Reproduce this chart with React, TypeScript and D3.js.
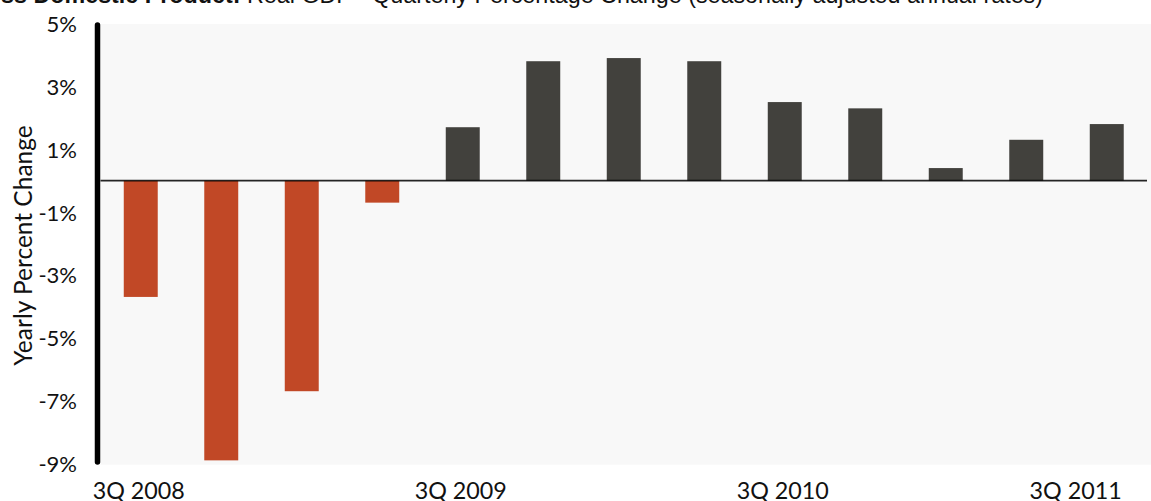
import React from "react";
import * as d3 from "d3";

// Real GDP, quarterly percent change (seasonally adjusted annual rates)
const quarters = [
  "3Q 2008", "4Q 2008", "1Q 2009", "2Q 2009", "3Q 2009", "4Q 2009", "1Q 2010",
  "2Q 2010", "3Q 2010", "4Q 2010", "1Q 2011", "2Q 2011", "3Q 2011",
];
const gdpChange = [-3.7, -8.9, -6.7, -0.7, 1.7, 3.8, 3.9, 3.8, 2.5, 2.3, 0.4, 1.3, 1.8];
const yTicks = [-9, -7, -5, -3, -1, 1, 3, 5];
const xTickLabels = ["3Q 2008", "3Q 2009", "3Q 2010", "3Q 2011"];

const W = 1151;
const H = 501;
const plot = { left: 100.5, right: 1147, top: 23.5, bottom: 463.5 };

const NEG = "#c14826";
const POS = "#42413d";
const labelFont = "Lato, 'Open Sans', sans-serif";

export default function App() {
  const x = d3
    .scaleBand<string>()
    .domain(quarters)
    .range([plot.left, plot.right])
    .paddingInner(0.578)
    .paddingOuter(0.289);
  const y = d3.scaleLinear().domain([-9, 5]).range([plot.bottom, plot.top]);
  const y0 = y(0);

  return (
    <svg
      width={W}
      height={H}
      style={{ position: "absolute", left: 0, top: 0, background: "#fff" }}
    >
      {/* title, set partly above the top edge */}
      <text
        x={1043}
        y={2.5}
        textAnchor="end"
        fontFamily="'Liberation Sans', Arial, sans-serif"
        fontSize={23.3}
        fill="#111"
      >
        <tspan fontWeight="bold">Gross Domestic Product:</tspan>
        <tspan> Real GDP - Quarterly Percentage Change (seasonally adjusted annual rates)</tspan>
      </text>

      {/* plot background */}
      <rect x={plot.left} y={24} width={W - plot.left} height={440.7} fill="#f8f8f8" />

      {/* bars */}
      {quarters.map((q, i) => {
        const v = gdpChange[i];
        return (
          <rect
            key={q}
            x={x(q)}
            width={x.bandwidth()}
            y={Math.min(y(v), y0)}
            height={Math.abs(y(v) - y0)}
            fill={v < 0 ? NEG : POS}
          />
        );
      })}

      {/* zero line */}
      <line x1={plot.left} x2={plot.right} y1={y0} y2={y0} stroke="#000" strokeWidth={1.6} strokeOpacity={0.85} />

      {/* y axis */}
      <line
        x1={97.5}
        x2={97.5}
        y1={plot.top + 1.5}
        y2={plot.bottom - 1.5}
        stroke="#000"
        strokeWidth={5.5}
        strokeLinecap="round"
      />
      {yTicks.map((t) => (
        <text
          key={t}
          x={77}
          y={y(t)}
          textAnchor="end"
          dominantBaseline="central"
          fontFamily={labelFont}
          fontSize={22}
          fill="#111"
        >
          {`${t}%`}
        </text>
      ))}
      <text
        transform={`translate(22, ${245.5}) rotate(-90)`}
        textAnchor="middle"
        dominantBaseline="central"
        fontFamily={labelFont}
        fontSize={24.5}
        fill="#111"
      >
        Yearly Percent Change
      </text>

      {/* x tick labels */}
      {xTickLabels.map((q, i) => {
        const last = i === xTickLabels.length - 1;
        const cx = last ? (x(q) as number) + x.bandwidth() - 2 : (x(q) as number) + x.bandwidth() / 2 - 2;
        return (
          <text
            key={q}
            x={cx}
            y={499}
            textAnchor={last ? "end" : "middle"}
            fontFamily={labelFont}
            fontSize={23.3}
            fill="#111"
          >
            {q}
          </text>
        );
      })}
    </svg>
  );
}
